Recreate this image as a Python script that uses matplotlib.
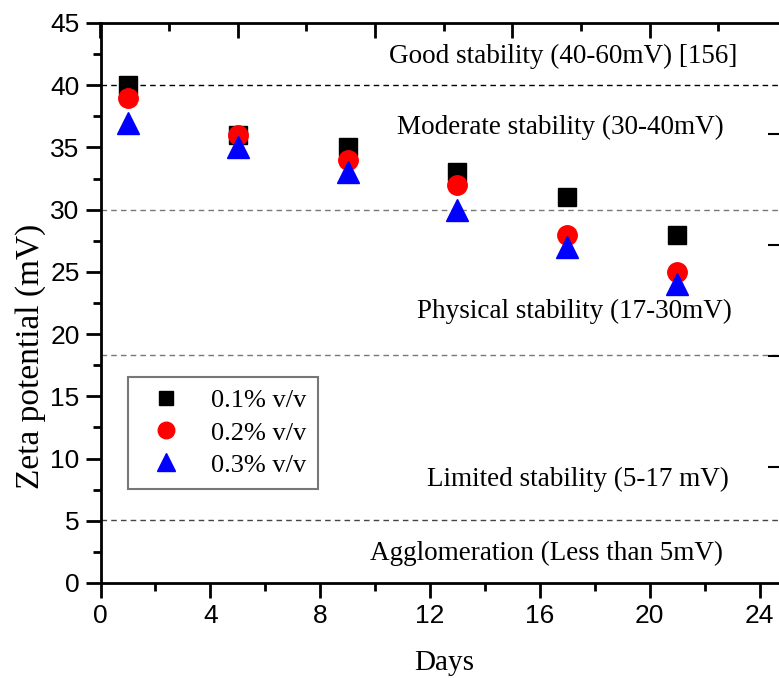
import numpy as np
import matplotlib.pyplot as plt
from matplotlib.ticker import MultipleLocator, NullFormatter

# ── Data ──────────────────────────────────────────────────────────────────────
days = [1, 5, 9, 13, 17, 21]
zeta_01 = [40, 36, 35, 33, 31, 28]
zeta_02 = [39, 36, 34, 32, 28, 25]
zeta_03 = [37, 35, 33, 30, 27, 24]
series_labels = ["0.1% v/v", "0.2% v/v", "0.3% v/v"]

band_limits = [40, 30, 18.3, 5.1]
band_texts = [
    "Good stability (40-60mV) [156]",
    "Moderate stability (30-40mV)",
    "Physical stability (17-30mV)",
    "Limited stability (5-17 mV)",
    "Agglomeration (Less than 5mV)",
]

SERIF = ["Liberation Serif", "DejaVu Serif"]
SANS = ["Liberation Sans", "DejaVu Sans"]

fig = plt.figure(figsize=(7.79, 6.78), dpi=100)
ax = fig.add_axes([100.5 / 779, 95 / 678, 686.5 / 779, 560 / 678])

# ── Stability bands ───────────────────────────────────────────────────────────
line_cols = ["black", "#777777", "#777777", "#444444"]
for yv, c in zip(band_limits, line_cols):
    ax.axhline(yv, color=c, lw=1.0, ls=(0, (4, 3)), zorder=1)

text_pos = [(16.84, 42.3), (16.76, 36.6), (17.27, 21.8), (17.38, 8.3), (16.25, 2.4)]
for (tx, ty), s in zip(text_pos, band_texts):
    ax.text(tx, ty, s, ha="center", va="center", fontsize=19.5, family=SERIF)

# ── Markers ───────────────────────────────────────────────────────────────────
ax.plot(days, zeta_01, "s", color="black", ms=12.5, ls="none", label=series_labels[0], zorder=3)
ax.plot(days, zeta_02, "o", color="red", ms=14, ls="none", label=series_labels[1], zorder=4)
ax.plot(days, zeta_03, "^", color="blue", ms=16, ls="none", label=series_labels[2], zorder=5)

ax.set_xlim(0, 25)
ax.set_ylim(0, 45)
ax.xaxis.set_major_locator(MultipleLocator(4))
ax.xaxis.set_minor_locator(MultipleLocator(2))
ax.yaxis.set_major_locator(MultipleLocator(5))
ax.yaxis.set_minor_locator(MultipleLocator(2.5))
ax.tick_params(which="major", direction="out", length=11, width=2, labelsize=19, pad=4)
ax.tick_params(which="minor", direction="out", length=6, width=2)
for lab in ax.get_xticklabels() + ax.get_yticklabels():
    lab.set_family(SANS)
for sp in ax.spines.values():
    sp.set_linewidth(2)
ax.spines["right"].set_visible(False)
ax.spines["top"].set_visible(False)

ax.set_xlabel("Days", fontsize=21, family=SERIF, labelpad=16)
ax.set_ylabel("Zeta potential (mV)", fontsize=24, family=SERIF)
ax.yaxis.set_label_coords(-0.08, 0.405)

leg = ax.legend(loc="upper left", bbox_to_anchor=(27.5 / 686.5, 1 - 377 / 560 + 23 / 560),
                borderaxespad=0,
                prop={"family": SERIF, "size": 19}, frameon=True, fancybox=False,
                handletextpad=0.7, borderpad=0.45, labelspacing=0.33, handlelength=2.0,
                markerscale=0.85)
leg.get_frame().set_edgecolor("#555555")
leg.get_frame().set_linewidth(1.5)

# ── Extra layer axes (top / right), cropped in the original ──────────────────
top = ax.twiny()
top.set_xlim(0, 5)
top.xaxis.set_major_locator(MultipleLocator(1))
top.xaxis.set_minor_locator(MultipleLocator(0.5))
top.tick_params(axis="x", which="major", direction="in", length=11, width=2, labeltop=False)
top.tick_params(axis="x", which="minor", direction="in", length=6, width=2)
top.xaxis.set_major_formatter(NullFormatter())
for sp in top.spines.values():
    sp.set_visible(False)
top.spines["top"].set_visible(True)
top.spines["top"].set_linewidth(2)

right = ax.twinx()
right.set_ylim(-0.05, 5.0)
right.set_yticks([1, 2, 3, 4])
right.tick_params(axis="y", which="major", direction="in", length=14, width=1.5, labelright=False)
for sp in right.spines.values():
    sp.set_visible(False)

fig.savefig("out.png", dpi=100)
